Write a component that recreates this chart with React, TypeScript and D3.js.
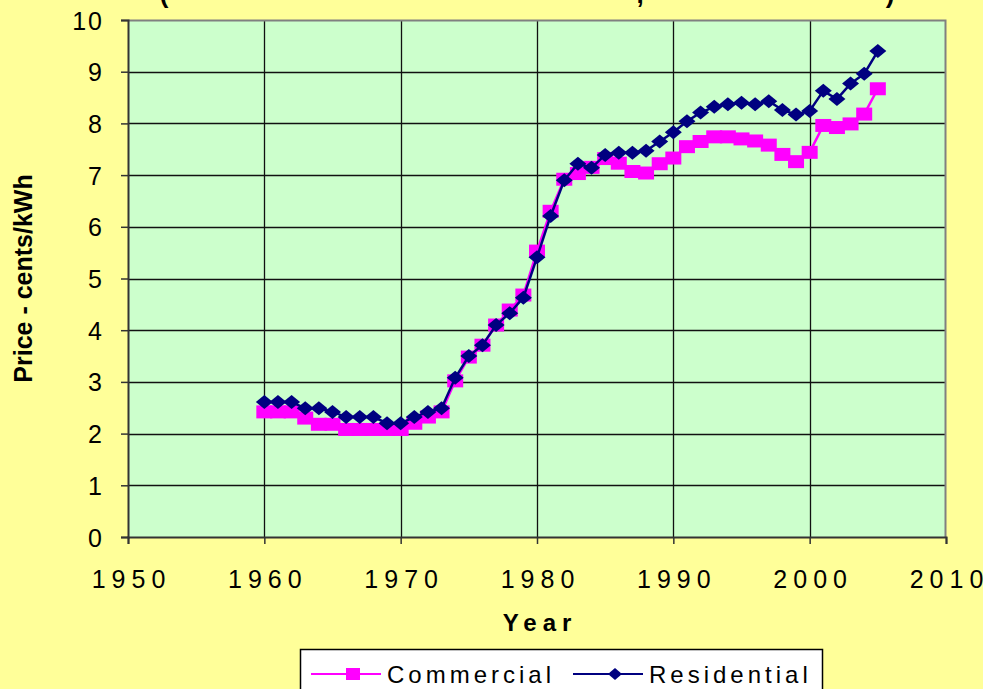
import React, { useEffect, useRef } from "react";
import * as d3 from "d3";

const years = [
  1960, 1961, 1962, 1963, 1964, 1965, 1966, 1967, 1968, 1969, 1970, 1971,
  1972, 1973, 1974, 1975, 1976, 1977, 1978, 1979, 1980, 1981, 1982, 1983,
  1984, 1985, 1986, 1987, 1988, 1989, 1990, 1991, 1992, 1993, 1994, 1995,
  1996, 1997, 1998, 1999, 2000, 2001, 2002, 2003, 2004, 2005,
];
const commercial = [
  2.42, 2.42, 2.42, 2.3, 2.18, 2.18, 2.08, 2.08, 2.08, 2.08, 2.08, 2.2,
  2.32, 2.42, 3.02, 3.48, 3.71, 4.1, 4.39, 4.68, 5.53, 6.3, 6.92, 7.03,
  7.15, 7.32, 7.23, 7.07, 7.04, 7.22, 7.33, 7.55, 7.65, 7.74, 7.74, 7.7,
  7.66, 7.58, 7.4, 7.26, 7.44, 7.96, 7.92, 7.99, 8.18, 8.67,
];
const residential = [
  2.61, 2.61, 2.61, 2.49, 2.49, 2.42, 2.32, 2.32, 2.32, 2.2, 2.2, 2.32,
  2.42, 2.49, 3.08, 3.5, 3.71, 4.1, 4.33, 4.63, 5.41, 6.21, 6.9, 7.22,
  7.14, 7.39, 7.43, 7.43, 7.47, 7.65, 7.83, 8.04, 8.21, 8.32, 8.37, 8.4,
  8.37, 8.43, 8.26, 8.17, 8.24, 8.63, 8.47, 8.77, 8.96, 9.4,
];
const xTicks = [1950, 1960, 1970, 1980, 1990, 2000, 2010];
const yTicks = [0, 1, 2, 3, 4, 5, 6, 7, 8, 9, 10];

const FONT = "'Liberation Sans', Arial, sans-serif";

const squarePath = (w: number, h: number) =>
  `M${-w / 2},${-h / 2}h${w}v${h}h${-w}Z`;
const diamondPath = (w: number, h: number) =>
  `M0,${-h / 2}L${w / 2},0L0,${h / 2}L${-w / 2},0Z`;

export default function App() {
  const ref = useRef<SVGSVGElement>(null);

  useEffect(() => {
    const W = 983,
      H = 689;
    const margin = { top: 20, right: 37, bottom: 152, left: 128 };
    const w = W - margin.left - margin.right,
      h = H - margin.top - margin.bottom;

    const svg = d3.select(ref.current);
    svg.selectAll("*").remove();

    svg.append("rect").attr("width", W).attr("height", H).attr("fill", "#ffff99");

    // title (only its bottom edge shows at the top of the picture)
    const titleBits = [
      { t: "(", x: 164 },
      { t: ",", x: 640 },
      { t: ")", x: 890 },
    ];
    svg
      .selectAll(".titlebit")
      .data(titleBits)
      .join("text")
      .attr("class", "titlebit")
      .attr("x", (d) => d.x)
      .attr("y", 3)
      .attr("text-anchor", "middle")
      .style("font-family", FONT)
      .style("font-size", "26px")
      .style("font-weight", "bold")
      .text((d) => d.t);

    const g = svg
      .append("g")
      .attr("transform", `translate(${margin.left}, ${margin.top})`);

    const x = d3.scaleLinear().domain([1950, 2010]).range([0, w]);
    const y = d3.scaleLinear().domain([0, 10]).range([h, 0]);

    g.append("rect").attr("width", w).attr("height", h).attr("fill", "#ccffcc");

    // gridlines
    g.selectAll(".hgrid")
      .data(yTicks.slice(1, -1))
      .join("line")
      .attr("class", "hgrid")
      .attr("x1", 0)
      .attr("x2", w)
      .attr("y1", (d) => Math.round(y(d)) + 0.5)
      .attr("y2", (d) => Math.round(y(d)) + 0.5)
      .attr("stroke", "#111")
      .attr("stroke-width", 1.3);
    g.selectAll(".vgrid")
      .data(xTicks.slice(1, -1))
      .join("line")
      .attr("class", "vgrid")
      .attr("x1", (d) => Math.round(x(d)) + 0.5)
      .attr("x2", (d) => Math.round(x(d)) + 0.5)
      .attr("y1", 0)
      .attr("y2", h)
      .attr("stroke", "#111")
      .attr("stroke-width", 1.3);

    // plot border top/right
    g.append("path")
      .attr("d", `M0,0.5H${w - 0.5}V${h}`)
      .attr("fill", "none")
      .attr("stroke", "#808080")
      .attr("stroke-width", 2);

    // axes
    const xAxis = g
      .append("g")
      .attr("transform", `translate(0, ${h})`)
      .call(d3.axisBottom(x).tickValues(xTicks).tickSize(7).tickFormat(d3.format("d")));
    const yAxis = g
      .append("g")
      .call(d3.axisLeft(y).tickValues(yTicks).tickSize(7).tickFormat(d3.format("d")));
    [xAxis, yAxis].forEach((a) => {
      a.select(".domain").attr("stroke", "#333").attr("stroke-width", 2);
      a.selectAll(".tick line").attr("stroke", "#333").attr("stroke-width", 1.5);
      a.selectAll(".tick text")
        .attr("fill", "#000")
        .style("font-family", FONT)
        .style("font-size", "25px");
    });
    xAxis
      .selectAll(".tick text")
      .attr("dy", 0)
      .attr("y", 51)
      .attr("dx", 3)
      .style("letter-spacing", "6px");
    yAxis
      .selectAll(".tick text")
      .attr("x", -24)
      .attr("dy", "0.36em")
      .style("letter-spacing", "2px");

    const line = d3
      .line<number>()
      .x((d, i) => x(years[i]))
      .y((d) => y(d));

    // commercial
    g.append("path")
      .datum(commercial)
      .attr("d", line)
      .attr("fill", "none")
      .attr("stroke", "#ff00ff")
      .attr("stroke-width", 2.5);
    g.selectAll(".sq")
      .data(commercial)
      .join("path")
      .attr("class", "sq")
      .attr("transform", (d, i) => `translate(${x(years[i])}, ${y(d)})`)
      .attr("d", squarePath(16, 13))
      .attr("fill", "#ff00ff");

    // residential
    g.append("path")
      .datum(residential)
      .attr("d", line)
      .attr("fill", "none")
      .attr("stroke", "#000080")
      .attr("stroke-width", 2.5);
    g.selectAll(".dia")
      .data(residential)
      .join("path")
      .attr("class", "dia")
      .attr("transform", (d, i) => `translate(${x(years[i])}, ${y(d)})`)
      .attr("d", diamondPath(17, 14))
      .attr("fill", "#000080");

    // axis titles
    svg
      .append("text")
      .attr("x", margin.left + w / 2 + 3)
      .attr("y", 631)
      .attr("text-anchor", "middle")
      .style("font-family", FONT)
      .style("font-size", "24px")
      .style("font-weight", "bold")
      .style("letter-spacing", "6px")
      .text("Year");
    svg
      .append("text")
      .attr("transform", `translate(32, ${margin.top + h / 2}) rotate(-90)`)
      .attr("text-anchor", "middle")
      .style("font-family", FONT)
      .style("font-size", "25px")
      .style("font-weight", "bold")
      .text("Price - cents/kWh");

    // legend
    const leg = svg.append("g").attr("transform", "translate(300, 649)");
    leg
      .append("rect")
      .attr("x", 0.5)
      .attr("y", 0.5)
      .attr("width", 522)
      .attr("height", 50)
      .attr("fill", "#fff")
      .attr("stroke", "#000")
      .attr("stroke-width", 1.5);
    const items = [
      { name: "Commercial", color: "#ff00ff", shape: squarePath(14, 12), x0: 11 },
      { name: "Residential", color: "#000080", shape: diamondPath(14, 12), x0: 273 },
    ];
    const li = leg
      .selectAll(".li")
      .data(items)
      .join("g")
      .attr("class", "li")
      .attr("transform", (d) => `translate(${d.x0}, 25)`);
    li.append("line")
      .attr("x1", 0)
      .attr("x2", 70)
      .attr("stroke", (d) => d.color)
      .attr("stroke-width", 2);
    li.append("path")
      .attr("transform", "translate(42, 0)")
      .attr("d", (d) => d.shape)
      .attr("fill", (d) => d.color);
    li.append("text")
      .attr("x", 76)
      .attr("y", 9)
      .style("font-family", FONT)
      .style("font-size", "24px")
      .style("letter-spacing", "4px")
      .text((d) => d.name);
  }, []);

  return (
    <svg
      ref={ref}
      width={983}
      height={689}
      style={{ position: "absolute", left: 0, top: 0, display: "block" }}
    ></svg>
  );
}
